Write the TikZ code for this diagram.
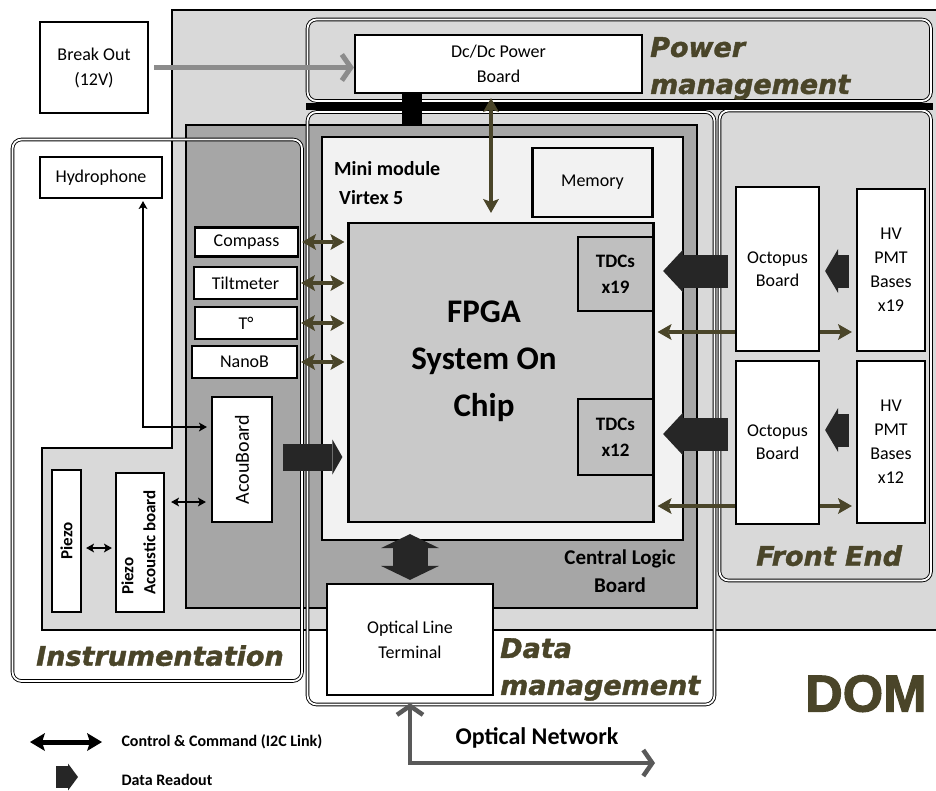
\documentclass[tikz,border=0pt]{standalone}
\usepackage{fontspec}
\setmainfont{Carlito}
\newfontfamily\zonefont{DejaVu Sans Bold Oblique}[FakeBold=1.5]
\newfontfamily\domfont{Liberation Sans Bold}[FakeBold=2]
\usepackage{xcolor}
\usepackage{graphicx}
\usepackage{tikz}
\usetikzlibrary{arrows.meta,calc}
\definecolor{domgray}{HTML}{D9D9D9}
\definecolor{clbgray}{HTML}{A6A6A6}
\definecolor{minigray}{HTML}{F2F2F2}
\definecolor{fpgagray}{HTML}{C9C9C9}
\definecolor{tdcgray}{HTML}{BFBFBF}
\definecolor{domolive}{HTML}{4A4529}
\definecolor{readgray}{HTML}{262626}
\definecolor{pwrgray}{HTML}{8C8C8C}
\definecolor{netgray}{HTML}{595959}

\begin{document}
    \begin{tikzpicture}[x=1pt, y=-1pt,
        board/.style={draw, line width=2.2pt, fill=white, align=center, inner sep=0pt,
              font=\fontsize{18}{25}\selectfont},
        zone/.style={draw, line width=0.9pt, double=white, double distance=1.8pt, rounded corners=9pt},
        zonetitle/.style={anchor=north west, inner sep=0pt, align=left, text=domolive,
              font=\zonefont\fontsize{27}{37}\selectfont},
        ctrltip/.tip={Stealth[length=14pt, width=16pt, inset=3pt, line width=0pt]},
        linktip/.tip={Stealth[length=8pt, width=9pt, inset=2pt, line width=0pt]},
        barbtip/.tip={Straight Barb[length=9pt, width=26pt]},
        ctrl/.style={draw=domolive, line width=4.5pt, ctrltip-ctrltip},
        link/.style={draw=black, line width=2pt, linktip-linktip},
        readout/.style n args={3}{draw=readgray, line width=#1,
              -{Triangle[width=#2, length=#3, line width=0pt]}}]
        \useasboundingbox (0,0) rectangle (936,790);

        \draw[line width=2pt, fill=domgray] (172,10) -- (940,10) -- (940,630) -- (42,630)
              -- (42,448) -- (172,448) -- cycle;
        \node[draw, line width=2.2pt, fill=clbgray, inner sep=0pt,
              minimum width=511pt, minimum height=483pt] (clb) at (441.5,366.5) {};
        \node[draw, line width=2.2pt, fill=minigray, inner sep=0pt,
              minimum width=361pt, minimum height=403pt] (mini) at (502.5,338.5) {};

        \draw[zone, fill=domgray] (307.5,19.5) rectangle (931,101);
        \draw[zone] (307.5,112) rectangle (714.5,704.5);
        \draw[zone] (719.5,110.5) rectangle (931,580.5);
        \draw[zone] (12.5,139.5) rectangle (302,681);
        \draw[line width=7pt] (306,106.5) -- (933,106.5);

        \node[board, minimum width=108pt, minimum height=91pt] (breakout) at (94,67.5) {Break Out\\(12V)};
        \node[board, minimum width=287pt, minimum height=58pt] (dcdc) at (498.5,64) {Dc/Dc Power\\Board};
        \node[board, minimum width=122pt, minimum height=41pt] (hydro) at (101,177.5) {Hydrophone};
        \node[board, fill=minigray, minimum width=120pt, minimum height=69pt] (memory) at (592.5,182.5) {Memory};
        \node[board, fill=fpgagray, minimum width=305pt, minimum height=299pt] (fpga) at (501,372.5) {};
        \node[font=\bfseries\fontsize{33}{47}\selectfont, align=center] (fpgatext) at (484,361) {FPGA\\System On\\Chip};
        \node[board, fill=tdcgray, font=\bfseries\fontsize{19}{26}\selectfont,
              minimum width=75pt, minimum height=74pt] (tdc19) at (615.5,274) {TDCs\\x19};
        \node[board, fill=tdcgray, font=\bfseries\fontsize{19}{26}\selectfont,
              minimum width=75pt, minimum height=76pt] (tdc12) at (615.5,437) {TDCs\\x12};

        \node[board, minimum width=103pt, minimum height=29pt] (compass) at (246.5,242) {Compass};
        \node[board, minimum width=103pt, minimum height=32pt] (tilt) at (245.5,283) {Tiltmeter};
        \node[board, minimum width=102pt, minimum height=32pt] (temp) at (246,323) {T°};
        \node[board, minimum width=105pt, minimum height=32pt] (nanob) at (244.5,362) {NanoB};
        \node[board, font=\fontsize{20}{24}\selectfont,
              minimum width=60pt, minimum height=125pt] (acou) at (242,459.5) {\rotatebox{90}{AcouBoard}};
        \node[board, font=\bfseries\fontsize{17}{22}\selectfont,
              minimum width=29pt, minimum height=142pt] (piezo) at (66.5,541) {\rotatebox{90}{Piezo}};
        \node[board, font=\bfseries\fontsize{17}{22}\selectfont,
              minimum width=48pt, minimum height=139pt] (pab) at (140,542.5)
              {\rotatebox{90}{\begin{tabular}{@{}l@{}}Piezo\\Acoustic board\end{tabular}}};

        \node[board, minimum width=166pt, minimum height=111pt] (olt) at (410,639.5) {Optical Line\\Terminal};
        \node[board, font=\fontsize{18}{23}\selectfont,
              minimum width=83pt, minimum height=164pt] (octo19) at (777.5,269) {Octopus\\Board};
        \node[board, font=\fontsize{18}{23}\selectfont,
              minimum width=83pt, minimum height=163pt] (octo12) at (777.5,442.5) {Octopus\\Board};
        \node[board, font=\fontsize{18}{24}\selectfont,
              minimum width=68pt, minimum height=162pt] (hv19) at (891,270) {HV\\PMT\\Bases\\x19};
        \node[board, font=\fontsize{18}{24}\selectfont,
              minimum width=68pt, minimum height=162pt] (hv12) at (891,442) {HV\\PMT\\Bases\\x12};

        \coordinate (pwrbus) at (412,0);
        \coordinate (pwrctl) at (491,0);
        \draw[line width=20pt] (dcdc.south -| pwrbus) -- (clb.north -| pwrbus);
        \draw[draw=pwrgray, line width=5pt, -barbtip, shorten <=5pt] (breakout.east) -- (dcdc.west |- breakout.east);
        \draw[ctrl, shorten <=4pt, shorten >=9pt] (dcdc.south -| pwrctl) -- (fpga.north -| pwrctl);
        \foreach \s in {compass,tilt,temp,nanob}
            \draw[ctrl, shorten <=3pt, shorten >=3pt] (\s.east) -- (fpga.west |- \s.east);

        \coordinate (ctl19) at (0,332);
        \coordinate (ctl12) at (0,506);
        \foreach \k in {19,12} {
            \draw[draw=domolive, line width=4.5pt, ctrltip-, shorten <=3pt] (fpga.east |- ctl\k) -- (octo\k.west |- ctl\k);
            \draw[draw=domolive, line width=4.5pt, -ctrltip, shorten >=4pt] (octo\k.east |- ctl\k) -- (hv\k.west |- ctl\k);
        }

        \coordinate (rdacou) at (0,457);
        \coordinate (rd19) at (0,271);
        \coordinate (rd12) at (0,434);
        \coordinate (rdhv12) at (0,430);
        \draw[readout={27pt}{35pt}{10pt}, shorten <=10pt, shorten >=5pt] (acou.east |- rdacou) -- (fpga.west |- rdacou);
        \draw[readout={33pt}{43pt}{20pt}, shorten <=7pt, shorten >=9pt] (octo19.west |- rd19) -- (tdc19.east |- rd19);
        \draw[readout={33pt}{43pt}{20pt}, shorten <=7pt, shorten >=9pt] (octo12.west |- rd12) -- (tdc12.east |- rd12);
        \draw[readout={33pt}{44pt}{13pt}, shorten <=7pt, shorten >=5pt] (hv19.west |- rd19) -- (octo19.east |- rd19);
        \draw[readout={33pt}{44pt}{13pt}, shorten <=7pt, shorten >=5pt] (hv12.west |- rdhv12) -- (octo12.east |- rdhv12);
        \coordinate (oltup) at (olt.north |- mini.south);
        \draw[draw=readgray, line width=35pt,
              {Triangle[width=58pt, length=14pt, line width=0pt]}-{Triangle[width=58pt, length=14pt, line width=0pt]}]
              ([yshift=7pt]oltup) -- ([yshift=3pt]olt.north);

        \coordinate (hydturn) at (143,427);
        \coordinate (piezolink) at (0,548);
        \coordinate (acoulink) at (0,502);
        \draw[link, shorten <=2pt, shorten >=4pt] (hydro.south -| hydturn) -- (hydturn) -- (acou.west |- hydturn);
        \draw[link, shorten <=4pt, shorten >=3pt] (piezo.east |- piezolink) -- (pab.west |- piezolink);
        \draw[link, shorten <=6pt, shorten >=5pt] (pab.east |- acoulink) -- (acou.west |- acoulink);

        \coordinate (netend) at (655,763);
        \draw[draw=netgray, line width=4.5pt, barbtip-barbtip, shorten <=7pt] (olt.south) |- (netend);
        \node[font=\bfseries\fontsize{24}{28}\selectfont] (netlabel) at (537,738) {Optical Network};

        \node[anchor=north west, inner sep=0pt, align=left, font=\bfseries\fontsize{20}{29}\selectfont]
              (minilabel) at (334,161) {Mini module\\\hspace*{5pt}Virtex 5};
        \node[font=\bfseries\fontsize{21}{28}\selectfont, align=center] (clblabel) at (620,571) {Central Logic\\Board};
        \node[zonetitle] (pwrtitle) at (650,37) {Power\\management};
        \node[zonetitle] (datatitle) at (500,638) {Data\\management};
        \node[zonetitle] (fronttitle) at (756,545) {Front End};
        \node[zonetitle] (instrtitle) at (36,645) {Instrumentation};
        \node[anchor=north west, inner sep=0pt, text=domolive, font=\domfont\fontsize{52}{52}\selectfont]
              (domtitle) at (805,675) {DOM};

        \coordinate (legcmd) at (30,742);
        \coordinate (legread) at (56,777);
        \node[anchor=west, font=\bfseries\fontsize{16}{19}\selectfont] (cmdtext) at (118,742) {Control \& Command (I2C Link)};
        \node[anchor=west, font=\bfseries\fontsize{16}{19}\selectfont] (readtext) at (118,780) {Data Readout};
        \draw[line width=5pt, {Stealth[length=15pt, width=18pt, inset=3pt, line width=0pt]}-{Stealth[length=15pt, width=18pt, inset=3pt, line width=0pt]}]
              (legcmd) -- ([xshift=-16pt]cmdtext.west);
        \draw[readout={22pt}{27pt}{10pt}] (legread) -- ([xshift=-40pt]readtext.west |- legread);
    \end{tikzpicture}
\end{document}
